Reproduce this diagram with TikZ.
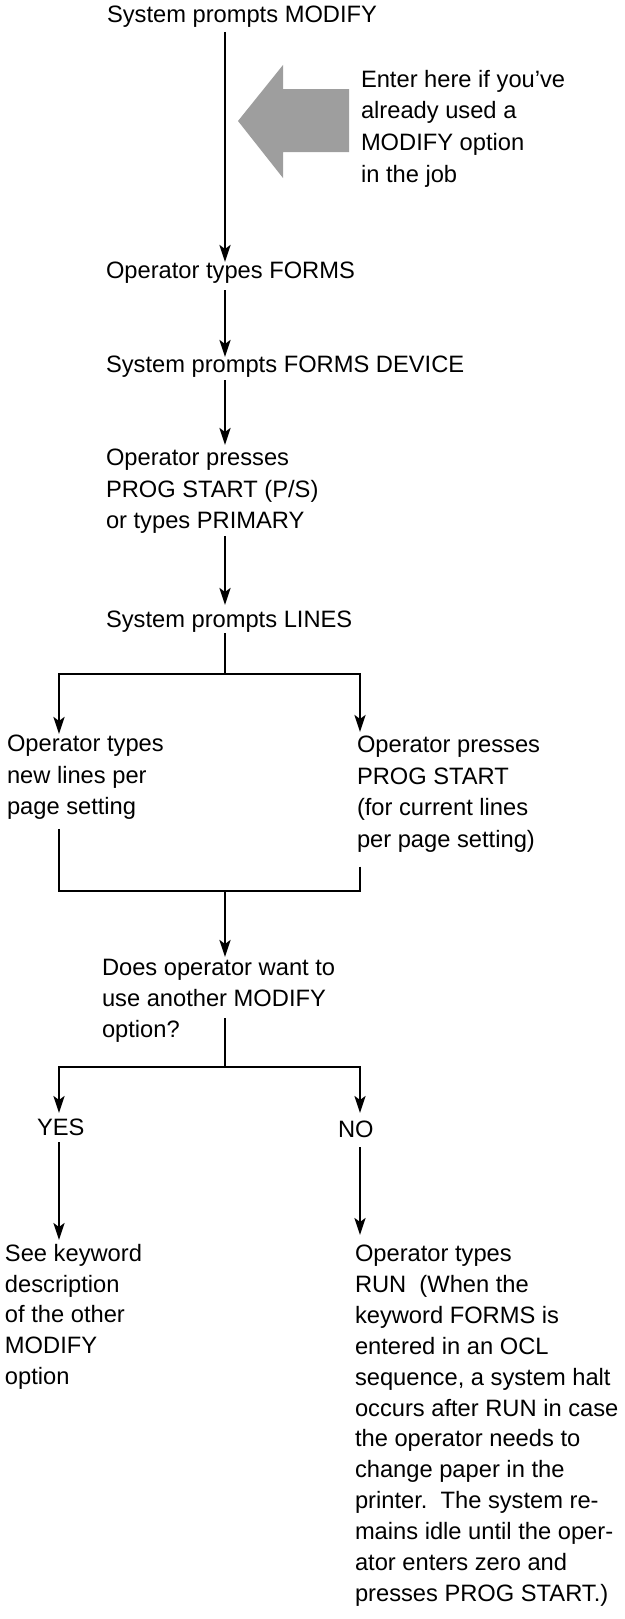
\documentclass[tikz,border=0pt]{standalone}
\usepackage{fontspec}
\setmainfont{Liberation Sans}
\usetikzlibrary{arrows.meta}
\begin{document}
\begin{tikzpicture}[x=1pt,y=-1pt,
  ln/.style={line width=2.4pt},
  arr/.style={ln,-{Stealth[length=17pt,width=11pt,inset=4pt]}},
  txt/.style={anchor=north west,inner sep=0pt,outer sep=0pt,align=left,
    font=\fontsize{23.7pt}{31.7pt}\selectfont,
    execute at begin node={\rule{0pt}{18pt}},
    execute at end node={\rule[-6pt]{0pt}{6pt}}},
  tight/.style={font=\fontsize{23.7pt}{30.9pt}\selectfont}]
\useasboundingbox (0,0) rectangle (624,1619);

% guide columns and junctions
\coordinate (spine) at (225,0);
\coordinate (lb) at (59,0);
\coordinate (rb) at (360,0);
\coordinate (j1) at (225,674);
\coordinate (j2) at (225,891);
\coordinate (q) at (225,1018);
\coordinate (j3) at (225,1067);

% entry arrow (shaded)
\fill[black!38] (238,121) -- (283,65) -- (283,89) -- (349,89) -- (349,152)
  -- (283,152) -- (283,178) -- cycle;

% steps
\node[txt] (t1) at (107,5) {System prompts MODIFY};
\node[txt] (enter) at (361,70) {Enter here if you’ve\\already used a\\MODIFY option\\in the job};
\node[txt] (t2) at (106,260) {Operator types FORMS};
\node[txt] (t3) at (106,354) {System prompts FORMS DEVICE};
\node[txt] (t4) at (106,449) {Operator presses\\PROG START (P/S)\\or types PRIMARY};
\node[txt] (t5) at (106,609) {System prompts LINES};
\node[txt] (ta) at (7,735) {Operator types\\new lines per\\page setting};
\node[txt] (tb) at (357,736) {Operator presses\\PROG START\\(for current lines\\per page setting)};
\node[txt,tight] (t7) at (102,959) {Does operator want to\\use another MODIFY\\option?};
\node[txt] (yes) at (37,1117) {YES};
\node[txt] (no) at (338,1119) {NO};
\node[txt,tight] (see) at (5,1244) {See keyword\\description\\of the other\\MODIFY\\option};
\node[txt,tight] (run) at (355,1245) {Operator types\\RUN\ \ (When the\\keyword FORMS is\\entered in an OCL\\sequence, a system halt\\occurs after RUN in case\\the operator needs to\\change paper in the\\printer.\ \ The system re-\\mains idle until the oper-\\ator enters zero and\\presses PROG START.)};

% main flow
\draw[arr,shorten <=3pt,shorten >=-2pt] (t1.south -| spine) -- (t2.north -| spine);
\draw[arr,shorten <=6pt,shorten >=-3pt] (t2.south -| spine) -- (t3.north -| spine);
\draw[arr,shorten <=2pt,shorten >=4pt] (t3.south -| spine) -- (t4.north -| spine);
\draw[arr,shorten <=1pt,shorten >=4pt] (t4.south -| spine) -- (t5.north -| spine);

% LINES branch
\draw[arr,shorten >=1pt] (t5.south -| spine) -- (j1) -| (ta.north -| lb);
\draw[arr,shorten >=4pt] (j1) -| (tb.north -| rb);
\draw[ln,shorten <=8pt] (ta.south -| lb) |- (j2);
\draw[ln,shorten <=13pt] (tb.south -| rb) |- (j2);
\draw[arr,shorten >=2pt] (j2) -- (t7.north -| spine);

% decision branch
\draw[arr,shorten >=4pt] (q) -- (j3) -| (yes.north -| lb);
\draw[arr,shorten >=6pt] (j3) -| (no.north -| rb);
\draw[arr,shorten <=1pt,shorten >=4pt] (yes.south -| lb) -- (see.north -| lb);
\draw[arr,shorten <=4pt,shorten >=10pt] (no.south -| rb) -- (run.north -| rb);
\end{tikzpicture}
\end{document}
